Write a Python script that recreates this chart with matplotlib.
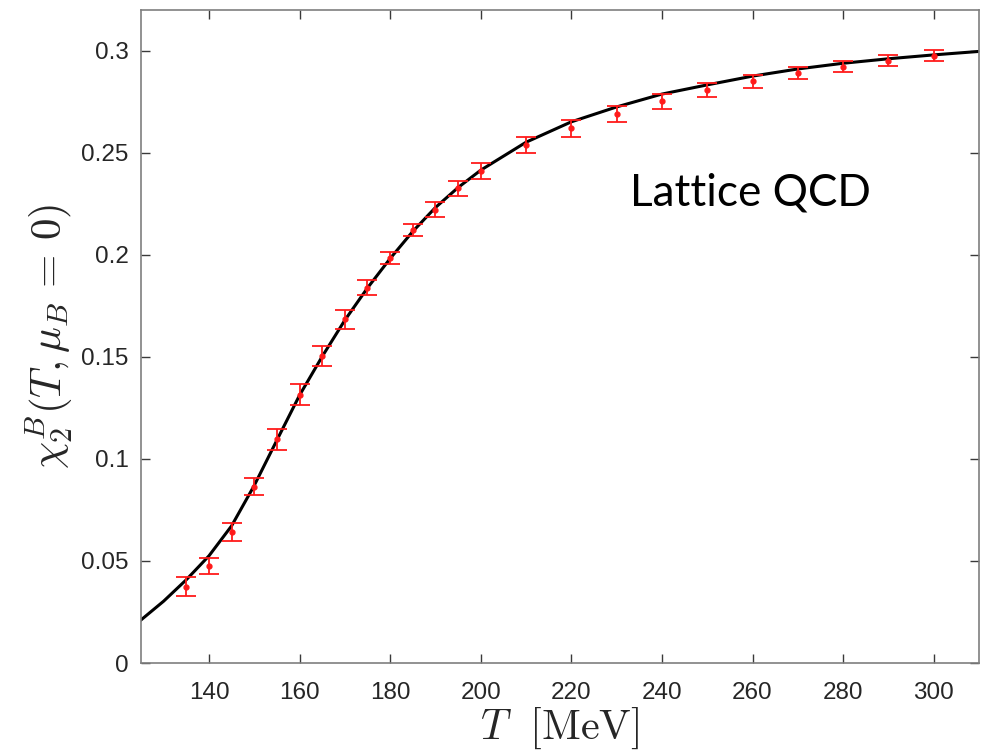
import matplotlib
matplotlib.use("Agg")
import matplotlib.pyplot as plt
import matplotlib.transforms as mtransforms
import numpy as np

# Lattice data points
T_data = [135, 140, 145, 150, 155, 160, 165, 170, 175, 180, 185, 190, 195, 200,
          210, 220, 230, 240, 250, 260, 270, 280, 290, 300]
chi_data = [0.0374, 0.0475, 0.0644, 0.0864, 0.1096, 0.1314, 0.1505, 0.1685, 0.1840,
            0.1984, 0.2123, 0.2222, 0.2326, 0.2412, 0.2539, 0.2621, 0.2691, 0.2752,
            0.2806, 0.2850, 0.2890, 0.2923, 0.2951, 0.2975]
chi_err = [0.0045, 0.0041, 0.0044, 0.0043, 0.0051, 0.0052, 0.0048, 0.0047, 0.0038,
           0.0030, 0.0030, 0.0035, 0.0037, 0.0038, 0.0040, 0.0042, 0.0040, 0.0037,
           0.0034, 0.0032, 0.0030, 0.0028, 0.0027, 0.0027]

# Fit curve
T_curve = [125, 130, 135, 140, 145, 150, 155, 160, 165, 170, 175, 180, 185, 190,
           195, 200, 210, 220, 230, 240, 250, 260, 270, 280, 290, 300, 310]
chi_curve = [0.0211, 0.0303, 0.0408, 0.0525, 0.0672, 0.0870, 0.1092, 0.1312, 0.1502,
             0.1680, 0.1838, 0.1982, 0.2115, 0.2232, 0.2330, 0.2415, 0.2552, 0.2652,
             0.2725, 0.2788, 0.2833, 0.2876, 0.2911, 0.2939, 0.2961, 0.2980, 0.2997]

x_ticks = [140, 160, 180, 200, 220, 240, 260, 280, 300]
y_ticks = [0, 0.05, 0.1, 0.15, 0.2, 0.25, 0.3]
y_ticklabels = ["0", "0.05", "0.1", "0.15", "0.2", "0.25", "0.3"]

plt.rcParams['mathtext.fontset'] = 'cm'

fig = plt.figure(figsize=(9.89, 7.53), dpi=100)
ax = fig.add_axes([141/989, 90/753, 838/989, 653/753])

ax.plot(T_curve, chi_curve, color='black', lw=2.2, zorder=2)
ax.errorbar(T_data, chi_data, yerr=chi_err, fmt='o', color='#ff1a1a', ms=3.5,
            elinewidth=1.3, capsize=7.5, capthick=1.3, zorder=3)

ax.set_xlim(125, 310)
ax.set_ylim(0, 0.32)
ax.set_xticks(x_ticks)
ax.set_yticks(y_ticks)
ax.set_yticklabels(y_ticklabels)

for sp in ax.spines.values():
    sp.set_color('#7f7f7f')
    sp.set_linewidth(1.2)
ax.tick_params(direction='in', length=6.5, width=1.0, color='#3a3a3a',
               top=True, right=True, labelsize=17.5, labelcolor='#262626')
ax.tick_params(axis='x', pad=14)
ax.tick_params(axis='y', pad=9)
for lab in ax.get_xticklabels() + ax.get_yticklabels():
    lab.set_family('Liberation Sans')

ax.set_xlabel(r'$T\ \ [\mathrm{MeV}]$', fontsize=30.5, color='#262626', labelpad=1)
ax.set_ylabel(r'$\chi_2^B(T,\mu_B\,=\,0)$', fontsize=31, color='#262626', labelpad=4)

fig.text(630, 753 - 205, 'Lattice QCD', transform=mtransforms.IdentityTransform(),
         fontsize=31.8, family='Lato', color='black', ha='left', va='baseline')

fig.savefig('out.png', dpi=100)
